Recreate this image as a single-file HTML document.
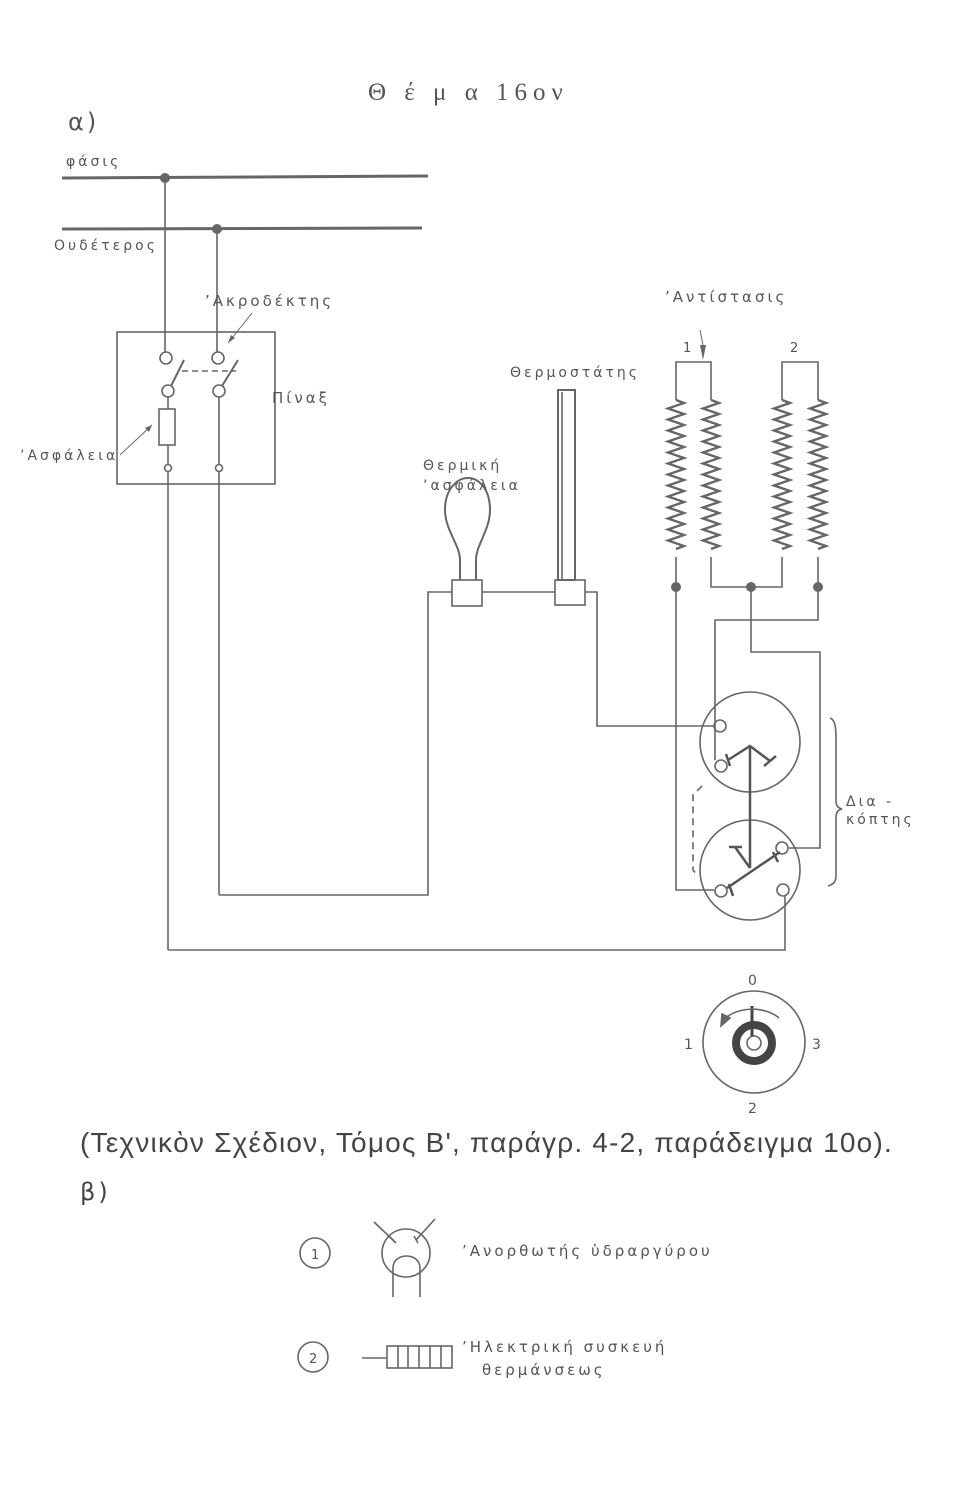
<!DOCTYPE html>
<html><head><meta charset="utf-8"><style>
html,body{margin:0;padding:0;background:#fff;}
svg{display:block}
text{font-family:"DejaVu Sans","Liberation Sans",sans-serif;fill:#555;letter-spacing:3px}
</style></head><body>
<svg width="954" height="1500" viewBox="0 0 954 1500" xmlns="http://www.w3.org/2000/svg">
<g stroke="#666" stroke-width="1.6" fill="none">
<line x1="62" y1="178" x2="428" y2="176" stroke-width="3"/>
<line x1="62" y1="229" x2="422" y2="228" stroke-width="3"/>
<rect x="117" y="332" width="158" height="152"/>
<line x1="165" y1="178" x2="165" y2="352"/>
<line x1="217" y1="229" x2="217" y2="352"/>
<circle cx="166" cy="358" r="6"/><circle cx="218" cy="358" r="6"/>
<circle cx="168" cy="391" r="6"/><circle cx="219" cy="391" r="6"/>
<line x1="171" y1="386" x2="184" y2="360" stroke-width="2"/>
<line x1="222" y1="386" x2="238" y2="360" stroke-width="2"/>
<line x1="182" y1="371" x2="236" y2="371" stroke-dasharray="6,4"/>
<line x1="168" y1="397" x2="168" y2="409"/>
<rect x="159" y="409" width="16" height="36"/>
<line x1="168" y1="445" x2="168" y2="464"/>
<line x1="219" y1="397" x2="219" y2="464"/>
<circle cx="168" cy="468" r="3.5"/><circle cx="219" cy="468" r="3.5"/>
<line x1="168" y1="472" x2="168" y2="950"/>
<line x1="219" y1="472" x2="219" y2="895"/>
<line x1="120" y1="455" x2="152" y2="425" stroke-width="1"/>
<line x1="252" y1="313" x2="228" y2="343" stroke-width="1"/>
<path d="M460,580 L460,560 C460,545 445,530 445,510 C445,488 458,478 468,478 C478,478 490,488 490,510 C490,530 476,545 476,560 L476,580" stroke-width="2"/>
<rect x="452" y="580" width="30" height="26"/>
<rect x="558" y="390" width="17" height="190" stroke-width="2"/>
<line x1="562" y1="392" x2="562" y2="580"/>
<rect x="555" y="580" width="30" height="25"/>
<polyline points="452,592 428,592 428,895 219,895"/>
<line x1="482" y1="592" x2="555" y2="592"/>
<polyline points="585,592 597,592 597,726 714,726"/>
<polyline points="676,400 676,362 711,362 711,400"/>
<polyline points="782,400 782,362 818,362 818,400"/>
<g stroke-width="2.4">
<path d="M676,400 l8,3 l-16,5.5 l16,5.5 l-16,5.5 l16,5.5 l-16,5.5 l16,5.5 l-16,5.5 l16,5.5 l-16,5.5 l16,5.5 l-16,5.5 l16,5.5 l-16,5.5 l16,5.5 l-16,5.5 l16,5.5 l-16,5.5 l16,5.5 l-16,5.5 l16,5.5 l-16,5.5 l16,5.5 l-16,5.5 l16,5.5 l-16,5.5 l16,5.5 l-8,3"/>
<path d="M711,400 l8,3 l-16,5.5 l16,5.5 l-16,5.5 l16,5.5 l-16,5.5 l16,5.5 l-16,5.5 l16,5.5 l-16,5.5 l16,5.5 l-16,5.5 l16,5.5 l-16,5.5 l16,5.5 l-16,5.5 l16,5.5 l-16,5.5 l16,5.5 l-16,5.5 l16,5.5 l-16,5.5 l16,5.5 l-16,5.5 l16,5.5 l-16,5.5 l16,5.5 l-8,3"/>
<path d="M782,400 l8,3 l-16,5.5 l16,5.5 l-16,5.5 l16,5.5 l-16,5.5 l16,5.5 l-16,5.5 l16,5.5 l-16,5.5 l16,5.5 l-16,5.5 l16,5.5 l-16,5.5 l16,5.5 l-16,5.5 l16,5.5 l-16,5.5 l16,5.5 l-16,5.5 l16,5.5 l-16,5.5 l16,5.5 l-16,5.5 l16,5.5 l-16,5.5 l16,5.5 l-8,3"/>
<path d="M818,400 l8,3 l-16,5.5 l16,5.5 l-16,5.5 l16,5.5 l-16,5.5 l16,5.5 l-16,5.5 l16,5.5 l-16,5.5 l16,5.5 l-16,5.5 l16,5.5 l-16,5.5 l16,5.5 l-16,5.5 l16,5.5 l-16,5.5 l16,5.5 l-16,5.5 l16,5.5 l-16,5.5 l16,5.5 l-16,5.5 l16,5.5 l-16,5.5 l16,5.5 l-8,3"/>
</g>
<polyline points="676,557 676,890 714,890"/>
<polyline points="711,557 711,587 782,587 782,557"/>
<polyline points="818,557 818,620 715,620 715,760"/>
<polyline points="751,587 751,652 820,652 820,848 789,848"/>
<polyline points="168,950 785,950 785,896"/>
<circle cx="750" cy="742" r="50"/>
<circle cx="750" cy="870" r="50"/>
<circle cx="720" cy="726" r="6"/><circle cx="721" cy="766" r="6"/>
<circle cx="782" cy="848" r="6"/><circle cx="721" cy="891" r="6"/><circle cx="783" cy="890" r="6"/>
<g stroke="#555" stroke-width="2.5">
<line x1="750" y1="746" x2="750" y2="868"/>
<polyline points="728,760 750,746 770,761"/>
<line x1="764" y1="766" x2="776" y2="756"/>
<line x1="726" y1="754" x2="730" y2="766"/>
<line x1="727" y1="888" x2="780" y2="852"/>
<line x1="750" y1="868" x2="735" y2="847"/>
<line x1="729" y1="847" x2="742" y2="847"/>
<line x1="773" y1="852" x2="778" y2="862"/>
<line x1="729" y1="884" x2="733" y2="896"/>
</g>
<path d="M702,786 L693,795 L693,870 L698,876" stroke-dasharray="7,5"/>
<path d="M830,718 C836,720 836,730 836,740 L836,800 C836,806 838,808 842,809 C838,810 836,812 836,818 L836,875 C836,882 834,884 828,886"/>
<circle cx="754" cy="1042" r="51"/>
<circle cx="754" cy="1043" r="18" stroke="#444" stroke-width="8"/>
<circle cx="754" cy="1043" r="7"/>
<line x1="752" y1="1006" x2="752" y2="1036" stroke="#444" stroke-width="3"/>
<path d="M723,1020 C738,1006 765,1006 779,1018"/>
<path d="M722,1014 L721,1026 L730,1018 Z" fill="#666"/>
<circle cx="315" cy="1253" r="15"/>
<circle cx="313" cy="1357" r="15"/>
<circle cx="406" cy="1253" r="24"/>
<path d="M393,1297 L393,1268 C393,1252 420,1252 420,1268 L420,1297"/>
<line x1="374" y1="1222" x2="395" y2="1242"/><line x1="390" y1="1237" x2="396" y2="1243"/>
<line x1="435" y1="1219" x2="416" y2="1240"/><line x1="414" y1="1236" x2="418" y2="1243"/>
<line x1="362" y1="1358" x2="387" y2="1358"/>
<rect x="387" y="1346" width="65" height="22"/>
<line x1="398" y1="1346" x2="398" y2="1368"/><line x1="408" y1="1346" x2="408" y2="1368"/>
<line x1="419" y1="1346" x2="419" y2="1368"/><line x1="430" y1="1346" x2="430" y2="1368"/>
<line x1="441" y1="1346" x2="441" y2="1368"/>
</g>
<g fill="#666">
<circle cx="165" cy="178" r="5"/><circle cx="217" cy="229" r="5"/>
<circle cx="676" cy="587" r="5"/><circle cx="751" cy="587" r="5"/><circle cx="818" cy="587" r="5"/>
<path d="M152,425 L145,428 L149,432 Z"/>
<path d="M228,343 L231,335 L235,338 Z"/>
<path d="M703,360 L700,345 L706,345 Z"/>
</g>
<line x1="703" y1="345" x2="700" y2="330" stroke="#666" stroke-width="1"/>
<text x="368" y="100" font-size="25" style="font-family:'Liberation Serif',serif;letter-spacing:6px">Θ έ μ α  16ον</text>
<text x="68" y="130" font-size="24">α)</text>
<text x="66" y="166" font-size="14">φάσις</text>
<text x="54" y="250" font-size="14">Ουδέτερος</text>
<text x="205" y="306" font-size="15">’Ακροδέκτης</text>
<text x="272" y="403" font-size="15">Πίναξ</text>
<text x="20" y="460" font-size="14">’Ασφάλεια</text>
<text x="510" y="377" font-size="14">Θερμοστάτης</text>
<text x="423" y="470" font-size="14">Θερμική</text>
<text x="423" y="490" font-size="14">’ασφάλεια</text>
<text x="665" y="302" font-size="15">’Αντίστασις</text>
<text x="683" y="352" font-size="13">1</text>
<text x="790" y="352" font-size="13">2</text>
<text x="846" y="806" font-size="14">Δια -</text>
<text x="846" y="824" font-size="14">κόπτης</text>
<text x="748" y="985" font-size="14">0</text>
<text x="684" y="1049" font-size="14">1</text>
<text x="812" y="1049" font-size="14">3</text>
<text x="748" y="1113" font-size="14">2</text>
<text x="80" y="1152" font-size="28" style="font-family:'Liberation Sans',sans-serif;fill:#444;letter-spacing:1.2px">(Τεχνικὸν Σχέδιον, Τόμος Β', παράγρ. 4-2, παράδειγμα 10ο).</text>
<text x="80" y="1200" font-size="24" style="fill:#444">β)</text>
<text x="311" y="1259" font-size="13" style="letter-spacing:0">1</text>
<text x="309" y="1363" font-size="13" style="letter-spacing:0">2</text>
<text x="462" y="1256" font-size="15">’Ανορθωτής ὑδραργύρου</text>
<text x="462" y="1352" font-size="15">’Ηλεκτρική συσκευή</text>
<text x="482" y="1375" font-size="15">θερμάνσεως</text>
</svg>
</body></html>
